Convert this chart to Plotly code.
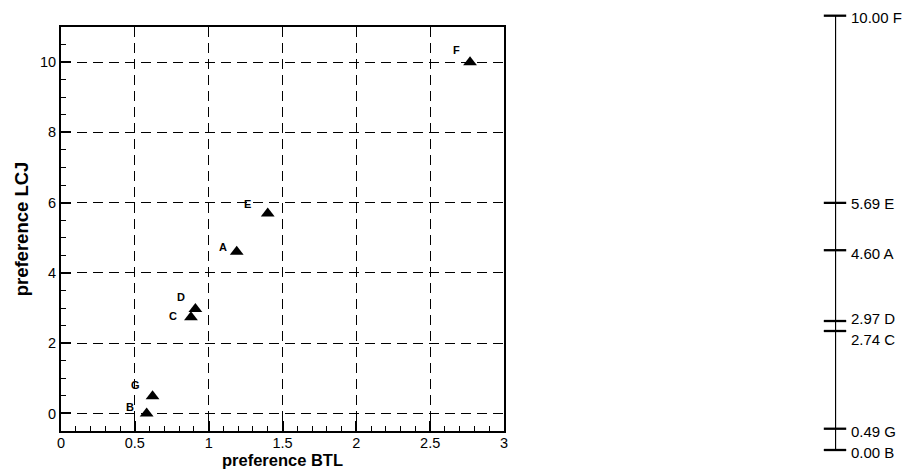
import plotly.graph_objects as go

labels = ["A", "B", "C", "D", "E", "F", "G"]
btl = [1.19, 0.58, 0.88, 0.91, 1.40, 2.77, 0.62]
lcj = [4.60, 0.00, 2.74, 2.97, 5.69, 10.00, 0.49]

# label offsets (pixels) for the scatter labels
lab_dx = [-14, -17, -18, -14, -20, -14, -17]
lab_dy = [5, 6, 1, 12, 10, 12, 11]
# vertical nudges for the scale labels
scale_dy = [-3, -2, -8, 3, -1, -2, -3]

FONT = "Liberation Sans, Arial, sans-serif"

W, H = 912, 470
fig = go.Figure()

fig.add_trace(go.Scatter(
    x=btl, y=lcj, mode="markers",
    marker=dict(symbol="triangle-up", size=12, color="black"),
    xaxis="x", yaxis="y", showlegend=False, cliponaxis=False,
))

# right-hand scale
fig.add_trace(go.Scatter(
    x=[0, 0], y=[min(lcj), max(lcj)], mode="lines",
    line=dict(color="black", width=2.3),
    xaxis="x2", yaxis="y2", showlegend=False, cliponaxis=False,
))
fig.add_trace(go.Scatter(
    x=[0] * len(lcj), y=lcj, mode="markers",
    marker=dict(symbol="line-ew", size=16, line=dict(color="black", width=2.3)),
    xaxis="x2", yaxis="y2", showlegend=False, cliponaxis=False,
))

annotations = []
for lab, xv, yv, dx, dy in zip(labels, btl, lcj, lab_dx, lab_dy):
    annotations.append(dict(
        x=xv, y=yv, xref="x", yref="y", text=f"<b>{lab}</b>",
        showarrow=False, xshift=dx, yshift=dy,
        font=dict(family=FONT, size=11, color="black"),
    ))
for lab, yv, dy in zip(labels, lcj, scale_dy):
    annotations.append(dict(
        x=0, y=yv, xref="x2", yref="y2", text=f"{yv:.2f} {lab}",
        showarrow=False, xanchor="left", xshift=14, yshift=dy,
        font=dict(family=FONT, size=15, color="black"),
    ))

axis_common = dict(
    showline=True, linecolor="black", linewidth=2, mirror=True,
    ticks="inside", ticklen=10, tickwidth=2, tickcolor="black",
    showgrid=True, gridcolor="black", gridwidth=1, griddash="10px,6px",
    zeroline=False, automargin=False,
    tickfont=dict(family=FONT, size=14.5, color="black"),
)

fig.update_layout(
    width=W, height=H,
    margin=dict(l=0, r=0, t=0, b=0),
    paper_bgcolor="white", plot_bgcolor="white",
    template="none",
    xaxis=dict(
        domain=[61 / W, 504 / W], range=[0, 3], dtick=0.5, tick0=0,
        minor=dict(ticks="inside", ticklen=5, tickwidth=1.3, dtick=0.1, tick0=0,
                   tickcolor="black", showgrid=False),
        ticklabelstandoff=-2,
        title=dict(text="<b>preference BTL</b>", standoff=2,
                   font=dict(family=FONT, size=16.5, color="black")),
        anchor="y", **axis_common,
    ),
    yaxis=dict(
        domain=[1 - 431 / H, 1 - 27 / H], range=[-0.5, 11], dtick=2, tick0=0,
        minor=dict(ticks="inside", ticklen=5, tickwidth=1.3, dtick=0.5, tick0=0,
                   tickcolor="black", showgrid=False),
        title=dict(text="<b>preference LCJ</b>", standoff=6,
                   font=dict(family=FONT, size=18.5, color="black")),
        anchor="x", **axis_common,
    ),
    xaxis2=dict(domain=[835 / W, 875 / W], range=[0, 1], visible=False,
                anchor="y2", fixedrange=True),
    yaxis2=dict(domain=[1 - 450 / H, 1 - 15.7 / H], range=[0, 10], visible=False,
                anchor="x2", fixedrange=True),
    annotations=annotations,
)

fig.write_html("out.html")
